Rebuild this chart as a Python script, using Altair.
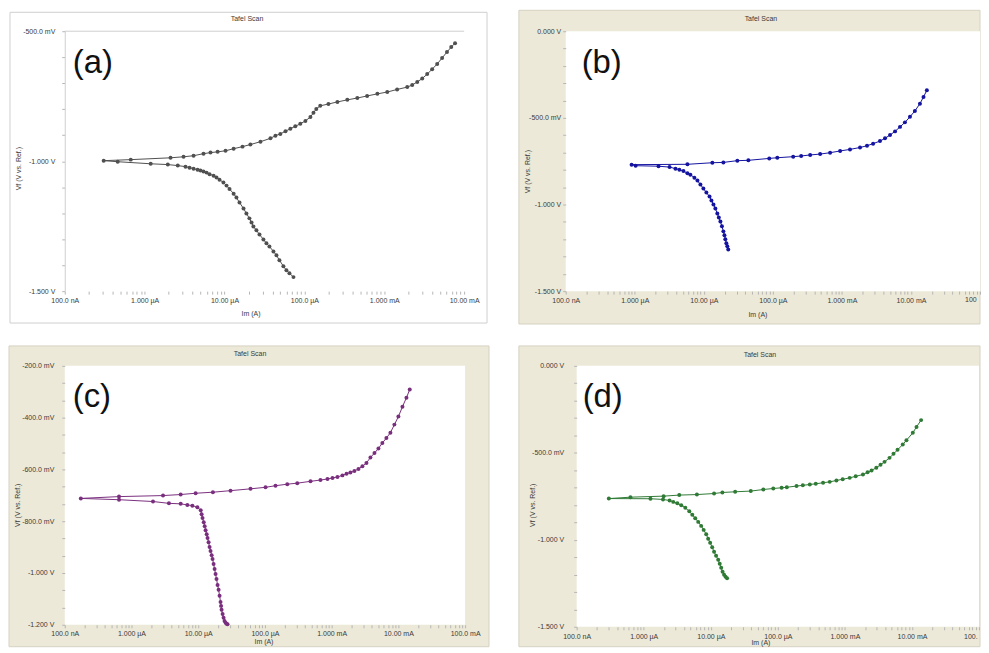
import altair as alt
import pandas as pd

# ---------------- data ----------------
# current Im in A, potential Vf in V.
# cathodic branch: listed from its far (lowest potential) end up to the corrosion point
# anodic branch: listed from the corrosion point up to its far end

# Panel (a)
A_CATH_I = [7.3e-5, 6.5e-5, 5.96e-5, 5.46e-5, 4.87e-5, 4.47e-5, 4.10e-5, 3.65e-5, 3.35e-5, 3.07e-5,
            2.74e-5, 2.51e-5, 2.30e-5, 2.18e-5, 2.05e-5, 1.88e-5, 1.73e-5, 1.54e-5, 1.41e-5, 1.30e-5,
            1.155e-5, 1.06e-5, 9.7e-6, 8.66e-6, 7.94e-6, 7.3e-6, 6.5e-6, 5.96e-6, 5.46e-6, 5.0e-6,
            4.6e-6, 4.1e-6, 3.65e-6, 3.25e-6, 2.6e-6, 1.95e-6, 1.19e-6, 4.6e-7]
A_CATH_V = [-1.446, -1.431, -1.420, -1.404, -1.381, -1.362, -1.347, -1.328, -1.316, -1.301,
            -1.282, -1.266, -1.251, -1.236, -1.220, -1.201, -1.182, -1.159, -1.140, -1.125,
            -1.107, -1.094, -1.082, -1.071, -1.063, -1.056, -1.050, -1.044, -1.040, -1.036,
            -1.033, -1.029, -1.025, -1.021, -1.017, -1.013, -1.010, -1.002]
A_ANOD_I = [3.07e-7, 6.7e-7, 2.11e-6, 3.07e-6, 4.1e-6, 5.46e-6, 6.68e-6, 8.2e-6, 1.03e-5, 1.30e-5,
            1.68e-5, 2.11e-5, 2.82e-5, 3.76e-5, 4.34e-5, 5.0e-5, 5.8e-5, 6.68e-5, 7.7e-5, 8.9e-5,
            1.03e-4, 1.19e-4, 1.30e-4, 1.41e-4, 1.58e-4, 2.0e-4, 2.59e-4, 3.45e-4, 4.6e-4, 6.1e-4,
            8.2e-4, 1.09e-3, 1.45e-3, 1.94e-3, 2.24e-3, 2.59e-3, 2.99e-3, 3.45e-3, 3.98e-3, 4.6e-3,
            5.3e-3, 6.1e-3, 6.9e-3, 7.7e-3]
A_ANOD_V = [-0.998, -0.994, -0.987, -0.983, -0.979, -0.971, -0.967, -0.964, -0.960, -0.952,
            -0.944, -0.936, -0.925, -0.912, -0.902, -0.895, -0.885, -0.875, -0.866, -0.856,
            -0.845, -0.830, -0.814, -0.799, -0.787, -0.780, -0.772, -0.764, -0.757, -0.749,
            -0.741, -0.734, -0.724, -0.715, -0.707, -0.695, -0.682, -0.665, -0.646, -0.626,
            -0.603, -0.580, -0.561, -0.546]

# Panel (b)
B_CATH_I = [2.26e-5, 2.19e-5, 2.12e-5, 2.05e-5, 1.99e-5, 1.92e-5, 1.83e-5, 1.74e-5, 1.65e-5, 1.57e-5,
            1.47e-5, 1.38e-5, 1.29e-5, 1.21e-5, 1.09e-5, 9.86e-6, 8.93e-6, 8.09e-6, 7.31e-6, 6.39e-6,
            5.79e-6, 5.07e-6, 4.43e-6, 3.89e-6, 3.19e-6, 2.21e-6, 1.03e-6]
B_CATH_V = [-1.259, -1.241, -1.224, -1.201, -1.178, -1.155, -1.126, -1.098, -1.075, -1.052,
            -1.023, -1.000, -0.977, -0.954, -0.931, -0.908, -0.885, -0.862, -0.845, -0.828,
            -0.819, -0.807, -0.799, -0.793, -0.784, -0.779, -0.776]
B_ANOD_I = [9.0e-7, 5.79e-6, 1.33e-5, 1.92e-5, 3.06e-5, 4.42e-5, 8.87e-5, 1.16e-4, 1.97e-4, 2.57e-4,
            3.47e-4, 4.84e-4, 6.75e-4, 9.42e-4, 1.31e-3, 1.83e-3, 2.31e-3, 2.83e-3, 3.56e-3, 4.21e-3,
            4.98e-3, 5.88e-3, 6.94e-3, 8.18e-3, 9.68e-3, 1.14e-2, 1.35e-2, 1.52e-2, 1.70e-2]
B_ANOD_V = [-0.770, -0.768, -0.759, -0.757, -0.747, -0.745, -0.734, -0.730, -0.724, -0.720,
            -0.714, -0.709, -0.701, -0.691, -0.682, -0.671, -0.661, -0.649, -0.634, -0.618,
            -0.599, -0.578, -0.552, -0.526, -0.494, -0.460, -0.418, -0.379, -0.341]

# Panel (c)
C_CATH_I = [2.75e-5, 2.66e-5, 2.57e-5, 2.48e-5, 2.40e-5, 2.32e-5, 2.24e-5, 2.20e-5, 2.16e-5, 2.09e-5,
            2.02e-5, 1.95e-5, 1.88e-5, 1.82e-5, 1.76e-5, 1.70e-5, 1.64e-5, 1.59e-5, 1.53e-5, 1.48e-5,
            1.43e-5, 1.38e-5, 1.34e-5, 1.29e-5, 1.25e-5, 1.21e-5, 1.16e-5, 1.125e-5, 1.09e-5, 9.71e-6,
            8.17e-6, 6.87e-6, 5.46e-6, 3.64e-6, 2.10e-6, 6.5e-7]
C_CATH_V = [-1.198, -1.196, -1.192, -1.185, -1.173, -1.158, -1.142, -1.127, -1.112, -1.088,
            -1.065, -1.046, -1.023, -1.004, -0.985, -0.965, -0.946, -0.931, -0.915, -0.900,
            -0.881, -0.865, -0.850, -0.835, -0.819, -0.804, -0.788, -0.773, -0.758, -0.746,
            -0.740, -0.737, -0.733, -0.731, -0.724, -0.717]
C_ANOD_I = [1.74e-7, 6.5e-7, 2.97e-6, 5.46e-6, 9.14e-6, 1.66e-5, 3.05e-5, 6.08e-5, 1.02e-4, 1.44e-4,
            2.16e-4, 3.05e-4, 4.82e-4, 6.79e-4, 8.65e-4, 1.03e-3, 1.22e-3, 1.45e-3, 1.67e-3, 1.91e-3,
            2.19e-3, 2.52e-3, 2.89e-3, 3.32e-3, 3.81e-3, 4.38e-3, 5.02e-3, 5.75e-3, 6.61e-3, 7.59e-3,
            8.71e-3, 1.00e-2, 1.15e-2, 1.32e-2, 1.48e-2]
C_ANOD_V = [-0.712, -0.705, -0.701, -0.697, -0.692, -0.688, -0.682, -0.675, -0.669, -0.663,
            -0.657, -0.653, -0.646, -0.641, -0.637, -0.633, -0.629, -0.623, -0.617, -0.612,
            -0.606, -0.598, -0.588, -0.575, -0.554, -0.537, -0.519, -0.498, -0.479, -0.458,
            -0.427, -0.396, -0.358, -0.323, -0.291]

# Panel (d)
D_CATH_I = [1.75e-5, 1.66e-5, 1.58e-5, 1.50e-5, 1.43e-5, 1.36e-5, 1.29e-5, 1.20e-5, 1.12e-5, 1.05e-5,
            9.79e-6, 9.14e-6, 8.55e-6, 7.83e-6, 7.19e-6, 6.50e-6, 5.86e-6, 5.30e-6, 4.78e-6, 4.17e-6,
            3.63e-6, 3.17e-6, 2.76e-6, 2.43e-6, 1.94e-6, 1.26e-6]
D_CATH_V = [-1.221, -1.213, -1.201, -1.184, -1.161, -1.138, -1.115, -1.092, -1.069, -1.043,
            -1.017, -0.994, -0.968, -0.943, -0.920, -0.897, -0.876, -0.856, -0.836, -0.816,
            -0.802, -0.790, -0.782, -0.774, -0.768, -0.764]
D_ANOD_I = [3.02e-7, 6.34e-7, 1.98e-6, 3.39e-6, 6.21e-6, 1.12e-5, 1.49e-5, 2.31e-5, 3.95e-5, 6.07e-5,
            8.55e-5, 1.14e-4, 1.36e-4, 1.90e-4, 2.36e-4, 3.00e-4, 3.68e-4, 4.73e-4, 5.94e-4, 7.48e-4,
            9.27e-4, 1.18e-3, 1.45e-3, 1.86e-3, 2.18e-3, 2.50e-3, 2.94e-3, 3.40e-3, 3.90e-3, 4.63e-3,
            5.31e-3, 6.10e-3, 7.29e-3, 8.28e-3, 1.03e-2, 1.17e-2, 1.37e-2]
D_ANOD_V = [-0.763, -0.755, -0.749, -0.743, -0.740, -0.734, -0.728, -0.724, -0.720, -0.711,
            -0.705, -0.701, -0.698, -0.691, -0.687, -0.682, -0.678, -0.672, -0.667, -0.659,
            -0.652, -0.644, -0.635, -0.625, -0.612, -0.601, -0.586, -0.569, -0.552, -0.529,
            -0.506, -0.483, -0.452, -0.428, -0.385, -0.351, -0.312]

# axis tick labels
X_MAJOR = [1e-7, 1e-6, 1e-5, 1e-4, 1e-3, 1e-2, 1e-1]
X_LABELS = ["100.0 nA", "1.000 µA", "10.00 µA", "100.0 µA", "1.000 mA", "10.00 mA", "100.0 mA"]
A_Y_MAJOR = [-0.5, -1.0, -1.5]
A_Y_LABELS = ["-500.0 mV", "-1.000 V", "-1.500 V"]
BD_Y_MAJOR = [0.0, -0.5, -1.0, -1.5]
BD_Y_LABELS = ["0.000 V", "-500.0 mV", "-1.000 V", "-1.500 V"]
C_Y_MAJOR = [-0.2, -0.4, -0.6, -0.8, -1.0, -1.2]
C_Y_LABELS = ["-200.0 mV", "-400.0 mV", "-600.0 mV", "-800.0 mV", "-1.000 V", "-1.200 V"]

TITLE = "Tafel Scan"
Y_TITLE = "Vf (V vs. Ref.)"
X_TITLE = "Im (A)"

FONT = "Liberation Sans"
BEIGE = "#ECE9D8"
BEIGE_EDGE = "#d6d2c2"
LABEL_COLOR = "#3a3a3a"
TICK = 3


def label_expr(values, labels, relative):
    parts = []
    for v, lab in zip(values, labels):
        if relative:
            cond = f"abs(datum.value / {v!r} - 1) < 1e-6"
        else:
            cond = f"abs(datum.value - ({v!r})) < 1e-6"
        parts.append(f"{cond} ? '{lab}' : ")
    return "".join(parts) + "''"


def x_tick_values(n_dec):
    vals = []
    for major in X_MAJOR[:n_dec]:
        for m in range(1, 10):
            vals.append(major * m)
    vals.append(X_MAJOR[n_dec])
    return vals


def y_tick_values(majors, sub):
    vals = []
    for a, b in zip(majors[:-1], majors[1:]):
        for k in range(sub):
            vals.append(a + (b - a) * k / sub)
    vals.append(majors[-1])
    return vals


def one_row():
    return pd.DataFrame({"k": [0]})


def rect(x1, x2, y1, y2, **kw):
    return alt.Chart(one_row()).mark_rect(**kw).encode(
        x=alt.value(x1), x2=alt.value(x2), y=alt.value(y1), y2=alt.value(y2))


def txt(s, x, y, size=7, angle=0, align="center", baseline="middle", color=LABEL_COLOR, **kw):
    return alt.Chart(pd.DataFrame({"t": [s]})).mark_text(
        font=FONT, fontSize=size, angle=angle, align=align, baseline=baseline, color=color, **kw
    ).encode(text="t:N", x=alt.value(x), y=alt.value(y))


def panel(p):
    W, H = p["W"], p["H"]
    I = list(p["ci"]) + list(p["ai"])
    V = list(p["cv"]) + list(p["av"])
    df = pd.DataFrame({"I": I, "V": V, "k": list(range(len(I)))})

    n_dec = p["n_dec"]
    xlabels = list(X_LABELS)
    if p["cut_last"]:
        xlabels[n_dec] = ""
    xaxis = alt.Axis(values=x_tick_values(n_dec), labelExpr=label_expr(X_MAJOR, xlabels, True),
                     title=None, grid=False, domain=False, tickSize=TICK, tickColor="#b5b5b5",
                     labelFont=FONT, labelFontSize=7, labelColor=LABEL_COLOR,
                     labelPadding=p["xpad"], labelOverlap=False, labelFlush=False, zindex=1)
    yaxis = alt.Axis(values=y_tick_values(p["ymaj"], p["ysub"]),
                     labelExpr=label_expr(p["ymaj"], p["ylab"], False),
                     title=None, grid=False, domain=p["ydomain"], domainColor="#cfcfcf",
                     tickSize=TICK, tickColor="#b5b5b5",
                     labelFont=FONT, labelFontSize=7, labelColor=LABEL_COLOR,
                     labelPadding=p["ypad"], labelOverlap=False, labelFlush=False, zindex=1)
    x = alt.X("I:Q", scale=alt.Scale(type="log", domain=[X_MAJOR[0], X_MAJOR[n_dec]], nice=False),
              axis=xaxis)
    y = alt.Y("V:Q", scale=alt.Scale(domain=[p["ymaj"][-1], p["ymaj"][0]], nice=False, zero=False),
              axis=yaxis)

    fx1, fx2, fy1, fy2 = p["frame"]
    layers = []
    if p["white_frame"]:
        layers.append(rect(fx1, fx2, fy1 - 2, fy2, fill="white"))
        layers.append(rect(fx1, fx2 - 1, fy1, fy2 - 1, fill="white", stroke="#cfcfcf", strokeWidth=1))
    else:
        layers.append(rect(fx1, fx2, fy1, fy2, fill=BEIGE, stroke=BEIGE_EDGE, strokeWidth=1))
    layers.append(rect(0, W, 0, H, fill="white"))
    if p["white_frame"]:
        layers.append(alt.Chart(one_row()).mark_rule(color="#cfcfcf", strokeWidth=1).encode(
            x=alt.value(0), x2=alt.value(W), y=alt.value(0)))

    line = alt.Chart(df).mark_line(color=p["color"], strokeWidth=1.0).encode(x=x, y=y, order="k:Q")
    pts = alt.Chart(df).mark_circle(color=p["color"], size=16, opacity=1).encode(x=x, y=y)
    layers += [line, pts]

    if p["cut_last"]:
        # last tick label, cut by the right edge of the picture as in the original
        layers.append(txt(X_LABELS[n_dec], W - 15, H + TICK + p["xpad"], align="left",
                          baseline="top", limit=fx2 - (W - 15), ellipsis=" "))

    tx, ty = p["title_xy"]
    layers.append(txt(TITLE, tx, ty))
    lx, ly = p["tag_xy"]
    layers.append(txt(p["tag"], lx, ly, size=33, align="left", color="#111111"))
    yx, yy = p["ytitle_xy"]
    layers.append(txt(Y_TITLE, yx, yy, angle=270))
    xx, xy = p["xtitle_xy"]
    layers.append(txt(X_TITLE, xx, H + xy))

    return alt.layer(*layers).properties(width=W, height=H)


PANELS = {
    "a": dict(ci=A_CATH_I, cv=A_CATH_V, ai=A_ANOD_I, av=A_ANOD_V, color="#505050",
              W=401, H=261, n_dec=5, ymaj=A_Y_MAJOR, ylab=A_Y_LABELS, ysub=5,
              xpad=2, ypad=7, ydomain=True, white_frame=True, cut_last=False,
              frame=(-55, 401 + 24, -19, 261 + 33),
              title_xy=(183, -12), tag="(a)", tag_xy=(8, 32),
              ytitle_xy=(-46, 138), xtitle_xy=(187, 23)),
    "b": dict(ci=B_CATH_I, cv=B_CATH_V, ai=B_ANOD_I, av=B_ANOD_V, color="#1414a0",
              W=416, H=261, n_dec=6, ymaj=BD_Y_MAJOR, ylab=BD_Y_LABELS, ysub=5,
              xpad=2, ypad=2, ydomain=False, white_frame=False, cut_last=True,
              frame=(-47, 416, -21, 261 + 33),
              title_xy=(196, -12), tag="(b)", tag_xy=(16, 32),
              ytitle_xy=(-38, 141), xtitle_xy=(193, 24)),
    "c": dict(ci=C_CATH_I, cv=C_CATH_V, ai=C_ANOD_I, av=C_ANOD_V, color="#7a2f7e",
              W=402, H=260, n_dec=6, ymaj=C_Y_MAJOR, ylab=C_Y_LABELS, ysub=3,
              xpad=2, ypad=8, ydomain=False, white_frame=False, cut_last=False,
              frame=(-56, 402 + 24, -20, 260 + 22),
              title_xy=(186, -12), tag="(c)", tag_xy=(8, 31),
              ytitle_xy=(-47, 140), xtitle_xy=(200, 17)),
    "d": dict(ci=D_CATH_I, cv=D_CATH_V, ai=D_ANOD_I, av=D_ANOD_V, color="#2f7a35",
              W=404, H=262, n_dec=6, ymaj=BD_Y_MAJOR, ylab=BD_Y_LABELS, ysub=5,
              xpad=3, ypad=10, ydomain=False, white_frame=False, cut_last=True,
              frame=(-58, 404 + 1, -20, 262 + 20),
              title_xy=(184, -11), tag="(d)", tag_xy=(6, 31),
              ytitle_xy=(-44, 140), xtitle_xy=(185, 16)),
}

row1 = alt.hconcat(panel(PANELS["a"]), panel(PANELS["b"]), spacing=30)
row2 = alt.hconcat(panel(PANELS["c"]), panel(PANELS["d"]), spacing=28)

chart = alt.vconcat(row1, row2, spacing=20).properties(
    padding=0, background="white"
).configure_view(strokeWidth=0)

chart.save("out.html", embed_options={"renderer": "svg", "actions": False})
